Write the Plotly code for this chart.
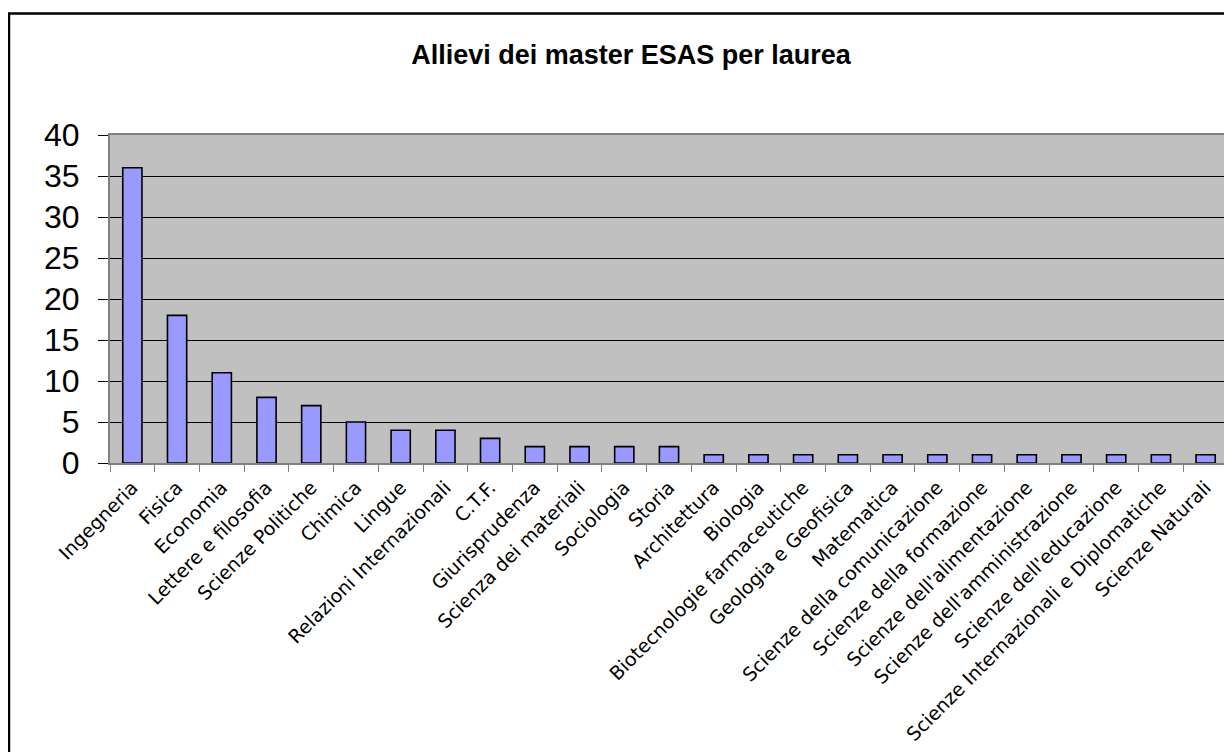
import plotly.graph_objects as go

categories = ["Ingegneria", "Fisica", "Economia", "Lettere e filosofia", "Scienze Politiche",
              "Chimica", "Lingue", "Relazioni Internazionali", "C.T.F.", "Giurisprudenza",
              "Scienza dei materiali", "Sociologia", "Storia", "Architettura", "Biologia",
              "Biotecnologie farmaceutiche", "Geologia e Geofisica", "Matematica",
              "Scienze della comunicazione", "Scienze della formazione",
              "Scienze dell'alimentazione", "Scienze dell'amministrazione",
              "Scienze dell'educazione", "Scienze Internazionali e Diplomatiche",
              "Scienze Naturali"]
values = [36, 18, 11, 8, 7, 5, 4, 4, 3, 2, 2, 2, 2, 1, 1, 1, 1, 1, 1, 1, 1, 1, 1, 1, 1]
y_ticks = [0, 5, 10, 15, 20, 25, 30, 35, 40]
title = "Allievi dei master ESAS per laurea"

# page body has an 8px margin, so the figure is sized to fill the rest of the window
W, H = 1224, 744
L, R, T, B = 102, 4, 127, 289
pw, ph = W - L - R, H - T - B

fig = go.Figure(go.Bar(
    x=categories, y=values,
    marker=dict(color="#9999FF", line=dict(color="black", width=1.6)),
    width=0.43,
))

fig.update_layout(
    width=W, height=H,
    margin=dict(l=L, r=R, t=T, b=B, autoexpand=False),
    paper_bgcolor="white", plot_bgcolor="#C0C0C0",
    showlegend=False,
    title=dict(text="<b>" + title + "</b>", x=623 / W, xref="container", xanchor="center",
               y=1 - 47 / H, yref="container", yanchor="middle",
               font=dict(family="Liberation Sans", size=27, color="black")),
)
fig.update_xaxes(
    type="category", tickangle=-45, tickson="boundaries", ticks="outside", ticklen=7,
    tickcolor="#808080", tickwidth=1,
    tickfont=dict(family="DejaVu Sans", size=19, color="black"),
    ticklabelstandoff=4,
    showgrid=False, showline=True, linecolor="#808080", linewidth=2, mirror=True,
)
fig.update_yaxes(
    range=[0, 40], tickvals=y_ticks, ticks="outside", ticklen=10, tickcolor="black",
    tickfont=dict(family="Liberation Sans", size=32, color="black"),
    ticklabelstandoff=12,
    showgrid=True, gridcolor="black", gridwidth=1,
    zeroline=True, zerolinecolor="black", zerolinewidth=1,
    showline=True, linecolor="#808080", linewidth=2, mirror=True,
)

# outer chart frame
fig.add_shape(type="rect", xref="paper", yref="paper",
              x0=(1 - L) / pw, x1=1 + (R + 10) / pw,
              y0=-(B + 10) / ph, y1=1 + (T - 5.5) / ph,
              line=dict(color="black", width=2.5), fillcolor="rgba(0,0,0,0)", layer="below")

fig.write_html("out.html")
